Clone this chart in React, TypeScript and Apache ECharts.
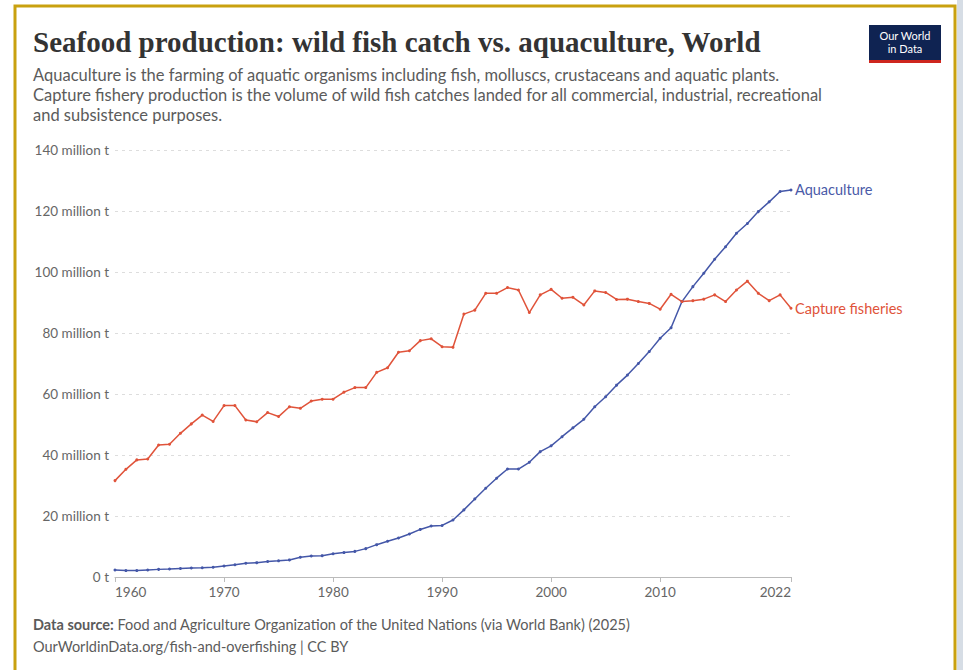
import React, { useEffect, useRef } from "react";
import * as echarts from "echarts";

const years: number[] = [];
for (let y = 1960; y <= 2022; y++) years.push(y);

const captureFisheries = [
  31.6, 35.3, 38.4, 38.7, 43.3, 43.5, 47.1, 50.2, 53.1, 51.0,
  56.2, 56.2, 51.5, 50.9, 53.9, 52.6, 55.8, 55.3, 57.7, 58.3,
  58.3, 60.6, 62.1, 62.1, 67.1, 68.6, 73.7, 74.2, 77.5, 78.1,
  75.5, 75.3, 86.2, 87.5, 93.0, 93.0, 94.9, 94.1, 86.7, 92.5,
  94.3, 91.4, 91.7, 89.2, 93.8, 93.3, 91.0, 91.1, 90.3, 89.7,
  87.8, 92.7, 90.3, 90.6, 91.1, 92.5, 90.3, 94.1, 97.0, 93.0,
  90.6, 92.5, 88.1,
];

const aquaculture = [
  2.3, 2.1, 2.1, 2.3, 2.5, 2.6, 2.8, 2.95, 3.05, 3.2,
  3.6, 4.0, 4.5, 4.7, 5.1, 5.3, 5.6, 6.5, 6.9, 7.0,
  7.6, 8.0, 8.4, 9.3, 10.6, 11.7, 12.8, 14.1, 15.6, 16.7,
  16.9, 18.7, 22.0, 25.6, 29.1, 32.4, 35.4, 35.4, 37.6, 41.1,
  43.0, 46.0, 48.9, 51.7, 55.8, 59.1, 62.9, 66.2, 70.0, 73.9,
  78.3, 81.7, 90.3, 95.2, 99.6, 104.2, 108.3, 112.7, 115.9, 119.8,
  123.0, 126.4, 126.9,
];

const xTickYears = [1960, 1970, 1980, 1990, 2000, 2010, 2022];

const TITLE = "Seafood production: wild fish catch vs. aquaculture, World";
const SUBTITLE_LINES = [
  "Aquaculture is the farming of aquatic organisms including fish, molluscs, crustaceans and aquatic plants.",
  "Capture fishery production is the volume of wild fish catches landed for all commercial, industrial, recreational",
  "and subsistence purposes.",
];
const SOURCE = "Food and Agriculture Organization of the United Nations (via World Bank) (2025)";
const URL_LINE = "OurWorldinData.org/fish-and-overfishing | CC BY";

const BLUE = "#4457a8";
const RED = "#e0533a";
const SANS = "Lato, 'Noto Sans', sans-serif";

export default function App() {
  const ref = useRef<HTMLDivElement>(null);

  useEffect(() => {
    document.body.style.margin = "0";
    if (!ref.current) return;
    const chart = echarts.init(ref.current, null, { renderer: "svg" });

    const toPairs = (vals: number[]) => years.map((y, i) => [y, vals[i]]);

    chart.setOption({
      animation: false,
      backgroundColor: "#ffffff",
      grid: { left: 115, right: 172, top: 150, bottom: 93 },
      xAxis: {
        type: "value",
        min: 1960,
        max: 2022,
        interval: 10,
        axisLine: { show: true, lineStyle: { color: "#bbbbbb", width: 1 } },
        axisTick: { show: true, length: 5, customValues: xTickYears, lineStyle: { color: "#bbbbbb" } },
        axisLabel: {
          customValues: xTickYears,
          color: "#666666",
          fontFamily: SANS,
          fontSize: 13.5,
          margin: 8,
          alignMinLabel: "left",
          alignMaxLabel: "right",
          formatter: (v: number) => String(v),
        },
        splitLine: { show: false },
      },
      yAxis: {
        type: "value",
        min: 0,
        max: 140,
        interval: 20,
        axisLine: { show: false },
        axisTick: { show: false },
        axisLabel: {
          color: "#666666",
          fontFamily: SANS,
          fontSize: 13.5,
          margin: 6,
          formatter: (v: number) => (v === 0 ? "0 t" : `${v} million t`),
        },
        splitLine: {
          show: true,
          lineStyle: { color: "#dddddd", type: [3, 4], width: 1 },
        },
      },
      series: [
        {
          name: "Aquaculture",
          type: "line",
          data: toPairs(aquaculture),
          symbol: "circle",
          symbolSize: 3,
          showSymbol: true,
          lineStyle: { color: BLUE, width: 1.5 },
          itemStyle: { color: BLUE },
          endLabel: {
            show: true,
            formatter: "{a}",
            color: "#4a5aa8",
            fontFamily: SANS,
            fontSize: 14.5,
            distance: 4,
          },
        },
        {
          name: "Capture fisheries",
          type: "line",
          data: toPairs(captureFisheries),
          symbol: "circle",
          symbolSize: 3,
          showSymbol: true,
          lineStyle: { color: RED, width: 1.5 },
          itemStyle: { color: RED },
          endLabel: {
            show: true,
            formatter: "{a}",
            color: "#e0533a",
            fontFamily: SANS,
            fontSize: 14.5,
            distance: 4,
          },
        },
      ],
      graphic: [
        {
          type: "rect",
          left: 957,
          top: 0,
          shape: { width: 6, height: 670 },
          style: { fill: "#d6dde5" },
          silent: true,
        },
        {
          type: "rect",
          x: 15,
          y: 6,
          shape: { x: 0, y: 0, width: 940, height: 700 },
          style: { fill: "none", stroke: "#c9a10f", lineWidth: 3 },
          silent: true,
        },
        {
          type: "text",
          x: 33,
          y: 27,
          style: {
            text: TITLE,
            font: "bold 29px 'Liberation Serif', 'DejaVu Serif', serif",
            fill: "#333333",
          },
        },
        ...SUBTITLE_LINES.map((line, i) => ({
          type: "text",
          x: 33,
          y: 66 + i * 20,
          style: {
            text: line,
            font: `16.5px ${SANS}`,
            fill: "#5b5b5b",
          },
        })),
        {
          type: "group",
          x: 869,
          y: 25,
          children: [
            { type: "rect", shape: { x: 0, y: 0, width: 72, height: 37 }, style: { fill: "#0f2352" } },
            { type: "rect", shape: { x: 0, y: 35, width: 72, height: 3 }, style: { fill: "#ce261e" } },
            {
              type: "text",
              x: 36,
              y: 5,
              style: { text: "Our World", font: `11px ${SANS}`, fill: "#ffffff", align: "center" },
            },
            {
              type: "text",
              x: 36,
              y: 18,
              style: { text: "in Data", font: `11px ${SANS}`, fill: "#ffffff", align: "center" },
            },
          ],
        },
        {
          type: "text",
          x: 33,
          y: 617,
          style: {
            text: `{b|Data source:} ${SOURCE}`,
            font: `14.5px ${SANS}`,
            fill: "#5b5b5b",
            rich: {
              b: { fontWeight: "bold", fontFamily: SANS, fontSize: 14.5, fill: "#5b5b5b" },
            },
          },
        },
        {
          type: "text",
          x: 33,
          y: 639,
          style: { text: URL_LINE, font: `14.5px ${SANS}`, fill: "#5b5b5b" },
        },
      ],
    });

    return () => chart.dispose();
  }, []);

  return <div ref={ref} style={{ width: 963, height: 670 }} />;
}
